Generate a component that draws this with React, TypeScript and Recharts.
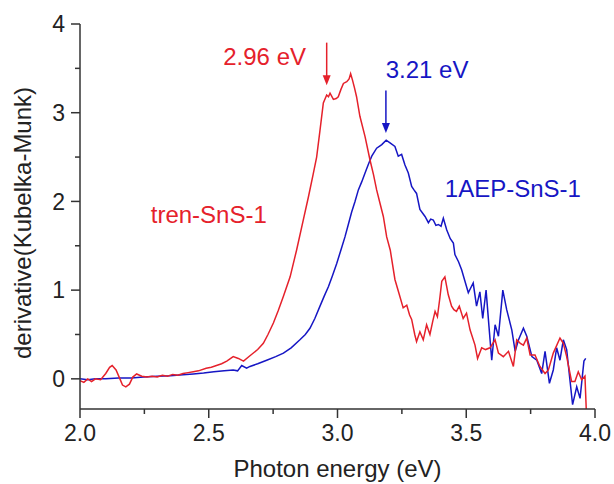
import React from 'react';
import {
  LineChart,
  Line,
  XAxis,
  YAxis,
  ReferenceLine,
  ReferenceDot,
} from 'recharts';

// Derivative of Kubelka-Munk spectra, tren-SnS-1 vs 1AEP-SnS-1.
// Values.

const trenEnergy = [
  2.0, 2.015, 2.03, 2.045, 2.06, 2.08, 2.1, 2.115, 2.125, 2.14, 2.155, 2.165, 2.178, 2.192,
  2.205, 2.22, 2.24, 2.26, 2.28, 2.3, 2.32, 2.34, 2.36, 2.38, 2.4, 2.42, 2.44, 2.46, 2.49,
  2.51, 2.53, 2.55, 2.57, 2.595, 2.615, 2.635, 2.66, 2.69, 2.712, 2.73, 2.751, 2.77, 2.79,
  2.816, 2.841, 2.867, 2.887, 2.905, 2.919, 2.932, 2.945, 2.958, 2.965, 2.971, 2.984, 2.995,
  3.003, 3.013, 3.023, 3.036, 3.045, 3.051, 3.058, 3.066, 3.074, 3.087, 3.107, 3.126, 3.14,
  3.152, 3.165, 3.178, 3.191, 3.205, 3.223, 3.24, 3.255, 3.269, 3.28, 3.288, 3.3, 3.307, 3.32,
  3.333, 3.346, 3.359, 3.37, 3.379, 3.388, 3.397, 3.405, 3.417, 3.43, 3.443, 3.452, 3.462,
  3.473, 3.488, 3.501, 3.515, 3.534, 3.544, 3.56, 3.575, 3.592, 3.612, 3.625, 3.644, 3.664,
  3.683, 3.696, 3.71, 3.722, 3.735, 3.748, 3.767, 3.786, 3.806, 3.819, 3.838, 3.864, 3.877,
  3.89, 3.909, 3.922, 3.935, 3.948, 3.961, 3.966,
];
const trenValue = [
  -0.02, -0.04, 0.0, -0.03, 0.0, -0.01, 0.06, 0.13, 0.15, 0.1, 0.0, -0.07, -0.09, -0.06,
  0.02, 0.055, 0.03, 0.02, 0.03, 0.02, 0.04, 0.03, 0.05, 0.04, 0.06, 0.07, 0.08, 0.09, 0.12,
  0.13, 0.15, 0.17, 0.2, 0.25, 0.23, 0.2, 0.26, 0.33, 0.4, 0.5, 0.63, 0.77, 0.93,
  1.15, 1.45, 1.79, 2.05, 2.3, 2.5, 2.8, 3.11, 3.2, 3.18, 3.22, 3.15, 3.16,
  3.18, 3.26, 3.33, 3.35, 3.38, 3.44, 3.37, 3.28, 3.18, 2.96, 2.73, 2.47, 2.3,
  2.13, 1.98, 1.83, 1.6, 1.45, 1.12, 0.95, 0.8, 0.83, 0.72, 0.67, 0.5, 0.42, 0.53,
  0.44, 0.61, 0.5, 0.65, 0.76, 0.7, 0.9, 1.1, 1.15, 0.95, 0.82, 0.78, 0.76,
  0.82, 0.68, 0.74, 0.55, 0.38, 0.23, 0.35, 0.33, 0.35, 0.44, 0.29, 0.25, 0.31,
  0.14, 0.44, 0.4, 0.38, 0.46, 0.27, 0.27, 0.14, 0.06, 0.1, 0.29, 0.46, 0.4,
  0.25, -0.03, -0.03, 0.08, -0.01, 0.03, -0.34,
];

const aepEnergy = [
  2.0, 2.03, 2.06, 2.1, 2.15, 2.2, 2.246, 2.3, 2.35, 2.4, 2.44, 2.48, 2.52, 2.56, 2.595,
  2.612, 2.628, 2.647, 2.66, 2.69, 2.725, 2.76, 2.79, 2.82, 2.854, 2.875, 2.893, 2.912,
  2.932, 2.948, 2.965, 2.98, 2.997, 3.013, 3.029, 3.042, 3.055, 3.068, 3.081, 3.094, 3.107,
  3.12, 3.133, 3.152, 3.172, 3.189, 3.204, 3.223, 3.236, 3.249, 3.262, 3.275, 3.288, 3.297,
  3.307, 3.32, 3.34, 3.353, 3.362, 3.372, 3.382, 3.392, 3.402, 3.411, 3.424, 3.438, 3.45,
  3.456, 3.47, 3.482, 3.495, 3.508, 3.527, 3.54, 3.553, 3.564, 3.577, 3.588, 3.599, 3.612,
  3.625, 3.642, 3.657, 3.677, 3.69, 3.703, 3.722, 3.735, 3.755, 3.774, 3.793, 3.806, 3.823,
  3.838, 3.851, 3.864, 3.877, 3.89, 3.913, 3.929, 3.942, 3.957, 3.964,
];
const aepValue = [
  0.0, -0.01, 0.0, 0.0, 0.01, 0.01, 0.02, 0.03, 0.035, 0.045, 0.055, 0.065, 0.08, 0.09, 0.1,
  0.09, 0.15, 0.12, 0.14, 0.17, 0.21, 0.25, 0.29, 0.35, 0.44, 0.5, 0.57, 0.68,
  0.82, 0.93, 1.04, 1.16, 1.3, 1.45, 1.6, 1.74, 1.88, 2.0, 2.13, 2.22, 2.32,
  2.42, 2.51, 2.6, 2.64, 2.69, 2.66, 2.62, 2.51, 2.53, 2.41, 2.32, 2.17, 2.13,
  2.09, 1.91, 1.83, 1.76, 1.8, 1.79, 1.73, 1.74, 1.72, 1.81, 1.68, 1.58, 1.53,
  1.4, 1.32, 1.23, 1.1, 0.97, 1.08, 0.82, 0.98, 0.68, 1.0, 0.6, 0.21, 0.61,
  0.48, 1.0, 0.78, 0.55, 0.31, 0.44, 0.57, 0.48, 0.25, 0.21, 0.06, 0.31, -0.05,
  0.1, 0.35, 0.21, 0.44, 0.33, -0.29, -0.09, -0.22, 0.2, 0.23,
];

const xMajor = [2.0, 2.5, 3.0, 3.5, 4.0];
const xMinor = [2.25, 2.75, 3.25, 3.75];
const yMajor = [0, 1, 2, 3, 4];
const yMinor = [0.5, 1.5, 2.5, 3.5];

const trenData = trenEnergy.map((e, i) => ({ e, v: trenValue[i] }));
const aepData = aepEnergy.map((e, i) => ({ e, v: aepValue[i] }));
const xTicks = [...xMajor, ...xMinor].sort((a, b) => a - b);
const yTicks = [...yMajor, ...yMinor].sort((a, b) => a - b);

const RED = '#E5212B';
const BLUE = '#1616C4';
const AXIS = '#333';
const FONT = '"Liberation Sans", Arial, sans-serif';

// plot frame edges, px
const LEFT = 80;
const RIGHT = 595;
const TOP = 24;
const BOTTOM = 409;

const BottomTick = ({ x, payload }: any) => {
  const major = xMajor.includes(payload.value);
  return (
    <g>
      <line x1={x} x2={x} y1={BOTTOM} y2={BOTTOM + (major ? 9 : 5)} stroke={AXIS} strokeWidth={1.5} />
      {major && (
        <text x={x} y={441} textAnchor="middle" fontSize={23} fontFamily={FONT} fill="#222">
          {payload.value.toFixed(1)}
        </text>
      )}
    </g>
  );
};

const TopTick = ({ x, payload }: any) => {
  const major = xMajor.includes(payload.value);
  return <line x1={x} x2={x} y1={TOP} y2={TOP + (major ? 9 : 5)} stroke={AXIS} strokeWidth={1.5} />;
};

const LeftTick = ({ y, payload }: any) => {
  const major = yMajor.includes(payload.value);
  return (
    <g>
      <line x1={LEFT - (major ? 9 : 5)} x2={LEFT} y1={y} y2={y} stroke={AXIS} strokeWidth={1.5} />
      {major && (
        <text x={LEFT - 15} y={y} dy="0.36em" textAnchor="end" fontSize={23} fontFamily={FONT} fill="#222">
          {payload.value}
        </text>
      )}
    </g>
  );
};

const RightTick = ({ y, payload }: any) => {
  const major = yMajor.includes(payload.value);
  return <line x1={RIGHT - (major ? 9 : 5)} x2={RIGHT} y1={y} y2={y} stroke={AXIS} strokeWidth={1.5} />;
};

const Arrow = ({ x1, y1, x2, y2, stroke }: any) => (
  <g>
    <line x1={x1} y1={y1} x2={x2} y2={y2 - 8} stroke={stroke} strokeWidth={1.5} />
    <polygon points={`${x2 - 4},${y2 - 10} ${x2 + 4},${y2 - 10} ${x2},${y2}`} fill={stroke} />
  </g>
);

const note = (text: string, color: string) => ({ cx, cy }: any) => (
  <text x={cx} y={cy} textAnchor="middle" fontSize={24} fontFamily={FONT} fill={color}>
    {text}
  </text>
);

export default function App() {
  return (
    <div style={{ position: 'absolute', left: 0, top: 0, background: '#fff' }}>
      <LineChart width={614} height={484} margin={{ top: TOP, right: 614 - RIGHT, bottom: 0, left: 0 }}>
        <XAxis
          xAxisId="b"
          dataKey="e"
          type="number"
          domain={[2, 4]}
          ticks={xTicks}
          allowDataOverflow
          height={484 - BOTTOM}
          axisLine={{ stroke: AXIS, strokeWidth: 1.5 }}
          tickLine={false}
          tick={<BottomTick />}
          interval={0}
          label={() => (
            <text x={(LEFT + RIGHT) / 2} y={477} textAnchor="middle" fontSize={24} fontFamily={FONT} fill="#222">
              Photon energy (eV)
            </text>
          )}
        />
        <XAxis
          xAxisId="t"
          orientation="top"
          type="number"
          domain={[2, 4]}
          ticks={xTicks}
          allowDataOverflow
          height={0}
          axisLine={{ stroke: AXIS, strokeWidth: 1.5 }}
          tickLine={false}
          tick={<TopTick />}
          interval={0}
        />
        <YAxis
          yAxisId="l"
          type="number"
          domain={[-0.34, 4]}
          ticks={yTicks}
          allowDataOverflow
          width={LEFT}
          axisLine={{ stroke: AXIS, strokeWidth: 1.5 }}
          tickLine={false}
          tick={<LeftTick />}
          interval={0}
          label={() => (
            <text
              x={31}
              y={223}
              transform="rotate(-90, 31, 223)"
              textAnchor="middle"
              fontSize={24}
              fontFamily={FONT}
              fill="#222"
            >
              derivative(Kubelka-Munk)
            </text>
          )}
        />
        <YAxis
          yAxisId="r"
          orientation="right"
          type="number"
          domain={[-0.34, 4]}
          ticks={yTicks}
          allowDataOverflow
          width={0}
          axisLine={{ stroke: AXIS, strokeWidth: 1.5 }}
          tickLine={false}
          tick={<RightTick />}
          interval={0}
        />

        <Line
          xAxisId="b"
          yAxisId="l"
          data={aepData}
          dataKey="v"
          type="linear"
          stroke={BLUE}
          strokeWidth={1.5}
          dot={false}
          isAnimationActive={false}
        />
        <Line
          xAxisId="b"
          yAxisId="l"
          data={trenData}
          dataKey="v"
          type="linear"
          stroke={RED}
          strokeWidth={1.5}
          dot={false}
          isAnimationActive={false}
        />

        <ReferenceLine
          xAxisId="b"
          yAxisId="l"
          segment={[{ x: 2.958, y: 3.79 }, { x: 2.958, y: 3.31 }]}
          stroke={RED}
          ifOverflow="visible"
          shape={(p: any) => <Arrow {...p} stroke={RED} />}
        />
        <ReferenceLine
          xAxisId="b"
          yAxisId="l"
          segment={[{ x: 3.188, y: 3.25 }, { x: 3.188, y: 2.77 }]}
          stroke={BLUE}
          ifOverflow="visible"
          shape={(p: any) => <Arrow {...p} stroke={BLUE} />}
        />
        <ReferenceDot xAxisId="b" yAxisId="l" x={2.717} y={3.54} ifOverflow="visible" shape={note('2.96 eV', RED)} />
        <ReferenceDot xAxisId="b" yAxisId="l" x={3.348} y={3.39} ifOverflow="visible" shape={note('3.21 eV', BLUE)} />
        <ReferenceDot xAxisId="b" yAxisId="l" x={2.5} y={1.76} ifOverflow="visible" shape={note('tren-SnS-1', RED)} />
        <ReferenceDot xAxisId="b" yAxisId="l" x={3.681} y={2.05} ifOverflow="visible" shape={note('1AEP-SnS-1', BLUE)} />
      </LineChart>
    </div>
  );
}
